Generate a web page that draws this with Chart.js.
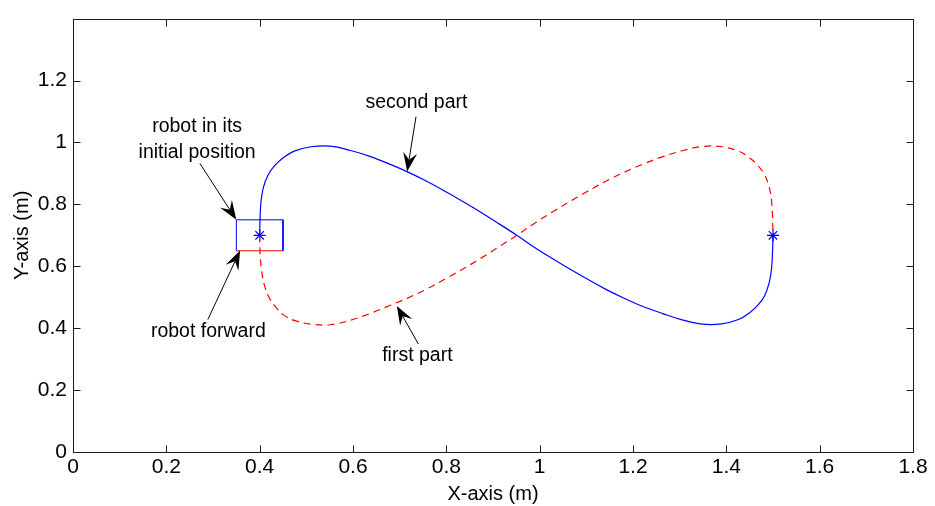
<!DOCTYPE html>
<html>
<head>
<meta charset="utf-8">
<script src="https://cdn.jsdelivr.net/npm/chart.js@4.4.1/dist/chart.umd.min.js"></script>
<style>
  html, body { margin: 0; padding: 0; background: #fff; }
  canvas { display: block; }
</style>
</head>
<body>
<canvas id="pathChart" width="935" height="506"></canvas>
<script>
// first part of the figure-eight (red, dashed), from the start pose downwards
const firstPartX = [0.400, 0.401, 0.404, 0.410, 0.420, 0.434, 0.451, 0.474, 0.510, 0.551, 0.595, 0.636, 0.680, 0.718, 0.760, 0.801, 0.840, 0.872, 0.910, 0.951, 0.990, 1.028, 1.060, 1.099, 1.140, 1.182, 1.220, 1.264, 1.305, 1.349, 1.390, 1.426, 1.450, 1.468, 1.482, 1.492, 1.497, 1.499, 1.500];
const firstPartY = [0.700, 0.640, 0.588, 0.540, 0.500, 0.469, 0.443, 0.425, 0.413, 0.411, 0.426, 0.447, 0.474, 0.498, 0.528, 0.562, 0.595, 0.624, 0.660, 0.700, 0.740, 0.776, 0.805, 0.839, 0.873, 0.904, 0.929, 0.954, 0.973, 0.987, 0.986, 0.972, 0.950, 0.925, 0.895, 0.855, 0.810, 0.760, 0.700];

// second part (blue, solid), from the start pose upwards
const secondPartX = [0.400, 0.401, 0.403, 0.408, 0.418, 0.432, 0.450, 0.474, 0.510, 0.551, 0.595, 0.636, 0.680, 0.718, 0.760, 0.801, 0.840, 0.872, 0.910, 0.951, 0.990, 1.028, 1.060, 1.099, 1.140, 1.182, 1.220, 1.264, 1.305, 1.349, 1.390, 1.426, 1.450, 1.468, 1.482, 1.492, 1.497, 1.499, 1.500];
const secondPartY = [0.700, 0.760, 0.810, 0.855, 0.895, 0.925, 0.950, 0.972, 0.986, 0.988, 0.974, 0.955, 0.929, 0.904, 0.873, 0.839, 0.805, 0.776, 0.740, 0.700, 0.660, 0.624, 0.595, 0.561, 0.527, 0.496, 0.471, 0.447, 0.427, 0.413, 0.414, 0.428, 0.450, 0.475, 0.505, 0.548, 0.595, 0.645, 0.700];

// robot body at its initial pose: blue outline, red front edge
const bodyX = [0.35, 0.35, 0.45, 0.45];
const bodyY = [0.65, 0.75, 0.75, 0.65];
const frontX = [0.35, 0.45];
const frontY = [0.65, 0.65];

// turning points marked with stars
const markX = [0.4, 1.5];
const markY = [0.7, 0.7];

const xTickValues = [0, 0.2, 0.4, 0.6, 0.8, 1, 1.2, 1.4, 1.6, 1.8];
const yTickValues = [0, 0.2, 0.4, 0.6, 0.8, 1, 1.2];
const xTickLabels = ["0", "0.2", "0.4", "0.6", "0.8", "1", "1.2", "1.4", "1.6", "1.8"];
const yTickLabels = ["0", "0.2", "0.4", "0.6", "0.8", "1", "1.2"];

// text notes (data units, x = centre, y = baseline) and arrows (tail -> tip)
const noteTexts = [
  { text: "robot in its", x: 0.266, y: 1.034 },
  { text: "initial position", x: 0.266, y: 0.951 },
  { text: "robot forward", x: 0.290, y: 0.373 },
  { text: "second part", x: 0.736, y: 1.112 },
  { text: "first part", x: 0.738, y: 0.294 },
];
const noteArrows = [
  { from: [0.272, 0.932], to: [0.350, 0.750] },
  { from: [0.289, 0.428], to: [0.358, 0.651] },
  { from: [0.735, 1.083], to: [0.716, 0.906] },
  { from: [0.740, 0.349], to: [0.694, 0.472] },
];

const FONT = "'Liberation Sans', Arial, Helvetica, sans-serif";
const TICK_LEN = 7;

const toPoints = (xs, ys) => xs.map((v, i) => ({ x: v, y: ys[i] }));

function drawArrow(ctx, x1, y1, x2, y2) {
  const ang = Math.atan2(y2 - y1, x2 - x1);
  const ux = Math.cos(ang), uy = Math.sin(ang);
  const px = -uy, py = ux;
  const len = 19, half = 7, notch = 12;
  ctx.beginPath();
  ctx.moveTo(x1, y1);
  ctx.lineTo(x2 - ux * notch, y2 - uy * notch);
  ctx.stroke();
  ctx.beginPath();
  ctx.moveTo(x2, y2);
  ctx.lineTo(x2 - ux * len + px * half, y2 - uy * len + py * half);
  ctx.lineTo(x2 - ux * notch, y2 - uy * notch);
  ctx.lineTo(x2 - ux * len - px * half, y2 - uy * len - py * half);
  ctx.closePath();
  ctx.fill();
}

// box with inward tick marks on all four sides, then the notes on top
const frameAndNotes = {
  id: "frameAndNotes",
  afterDatasetsDraw(chart) {
    const { ctx, chartArea: a, scales: { x, y } } = chart;
    const left = Math.round(a.left) + 0.5, right = Math.round(a.right) + 0.5;
    const top = Math.round(a.top) + 0.5, bottom = Math.round(a.bottom) + 0.5;
    ctx.save();
    ctx.strokeStyle = "#1a1a1a";
    ctx.lineWidth = 1;
    ctx.beginPath();
    xTickValues.forEach((v) => {
      const px = Math.round(x.getPixelForValue(v)) + 0.5;
      ctx.moveTo(px, bottom); ctx.lineTo(px, bottom - TICK_LEN);
      ctx.moveTo(px, top); ctx.lineTo(px, top + TICK_LEN);
    });
    yTickValues.forEach((v) => {
      const py = Math.round(y.getPixelForValue(v)) + 0.5;
      ctx.moveTo(left, py); ctx.lineTo(left + TICK_LEN, py);
      ctx.moveTo(right, py); ctx.lineTo(right - TICK_LEN, py);
    });
    ctx.stroke();
    ctx.strokeRect(left, top, right - left, bottom - top);

    ctx.strokeStyle = "#000";
    ctx.fillStyle = "#000";
    ctx.lineWidth = 1;
    noteArrows.forEach((n) => {
      drawArrow(ctx,
        x.getPixelForValue(n.from[0]), y.getPixelForValue(n.from[1]),
        x.getPixelForValue(n.to[0]), y.getPixelForValue(n.to[1]));
    });
    ctx.font = "19.5px " + FONT;
    ctx.textAlign = "center";
    ctx.textBaseline = "alphabetic";
    noteTexts.forEach((n) => {
      ctx.fillText(n.text, x.getPixelForValue(n.x), y.getPixelForValue(n.y));
    });
    ctx.restore();
  },
};

new Chart(document.getElementById("pathChart"), {
  type: "scatter",
  data: {
    datasets: [
      {
        label: "first part",
        data: toPoints(firstPartX, firstPartY),
        showLine: true,
        borderColor: "#ff0000",
        borderWidth: 1.2,
        borderDash: [7, 5],
        pointRadius: 0,
        tension: 0.4,
      },
      {
        label: "second part",
        data: toPoints(secondPartX, secondPartY),
        showLine: true,
        borderColor: "#0000ff",
        borderWidth: 1.2,
        pointRadius: 0,
        tension: 0.4,
      },
      {
        label: "body",
        data: toPoints(bodyX, bodyY),
        showLine: true,
        borderColor: "#0000ff",
        borderWidth: 1,
        pointRadius: 0,
      },
      {
        label: "front",
        data: toPoints(frontX, frontY),
        showLine: true,
        borderColor: "#ff0000",
        borderWidth: 1,
        pointRadius: 0,
      },
      {
        label: "marks",
        data: toPoints(markX, markY),
        showLine: false,
        pointStyle: "star",
        pointRadius: 6,
        borderColor: "#0000ff",
        backgroundColor: "#0000ff",
        pointBorderWidth: 1.2,
      },
    ],
  },
  options: {
    responsive: false,
    animation: false,
    devicePixelRatio: 1,
    layout: { padding: { top: 9, right: 22, left: 0, bottom: 0 } },
    plugins: { legend: { display: false }, tooltip: { enabled: false } },
    scales: {
      x: {
        type: "linear",
        min: 0,
        max: 1.8,
        afterBuildTicks: (s) => { s.ticks = xTickValues.map((v) => ({ value: v })); },
        afterFit: (s) => { s.height = 54; },
        grid: { display: false, drawTicks: false },
        border: { display: false },
        ticks: {
          padding: 3,
          color: "#000",
          font: { family: FONT, size: 21 },
          maxRotation: 0,
          callback: (v, i) => xTickLabels[i],
        },
        title: {
          display: true,
          text: "X-axis (m)",
          color: "#000",
          font: { family: FONT, size: 20 },
          padding: { top: 0, bottom: 0 },
        },
      },
      y: {
        type: "linear",
        min: 0,
        max: 1.4,
        afterBuildTicks: (s) => { s.ticks = yTickValues.map((v) => ({ value: v })); },
        afterFit: (s) => { s.width = 73; },
        grid: { display: false, drawTicks: false },
        border: { display: false },
        ticks: {
          padding: 6,
          color: "#000",
          font: { family: FONT, size: 21 },
          callback: (v, i) => yTickLabels[i],
        },
        title: {
          display: true,
          text: "Y-axis (m)",
          color: "#000",
          font: { family: FONT, size: 20 },
          padding: { top: 10, bottom: 0 },
        },
      },
    },
  },
  plugins: [frameAndNotes],
});
</script>
</body>
</html>
